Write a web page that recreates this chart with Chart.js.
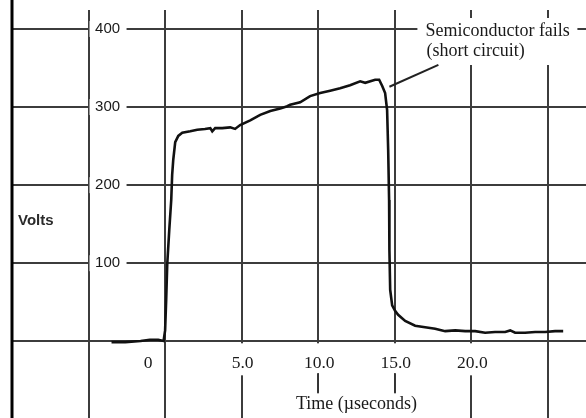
<!DOCTYPE html>
<html>
<head>
<meta charset="utf-8">
<script src="https://cdn.jsdelivr.net/npm/chart.js@4.4.1/dist/chart.umd.min.js"></script>
<style>
  html, body { margin: 0; padding: 0; background: #fff; }
  #wrap { width: 586px; height: 418px; }
</style>
</head>
<body>
<div id="wrap"><canvas id="c" width="586" height="418"></canvas></div>
<script>
// ---- data ----
const timeUs = [-3.5, -2.6, -1.6, -1.0, -0.45, -0.1, 0.0, 0.07, 0.14, 0.27, 0.4, 0.46, 0.53, 0.66, 0.86, 1.12, 1.64, 2.1, 2.6, 2.95, 3.08, 3.27, 3.73, 4.25, 4.57, 4.9, 5.56, 6.21, 6.87, 7.52, 7.97, 8.17, 8.82, 9.47, 10.13, 10.78, 11.43, 12.08, 12.74, 13.07, 13.72, 13.98, 14.18, 14.37, 14.5, 14.57, 14.63, 14.65, 14.7, 14.83, 15.02, 15.22, 15.68, 16.33, 16.98, 17.64, 18.29, 18.95, 19.6, 20.25, 20.9, 21.55, 22.21, 22.54, 22.86, 23.51, 24.17, 24.82, 25.47, 26.0];
const volts  = [-1, -1, 0.5, 2, 2, 0.5, 14, 53, 99, 142, 181, 213, 232, 255, 263, 267, 269, 271, 272, 273, 269, 273, 273, 274, 272, 277, 283, 290, 295, 298, 301, 303, 306, 314, 318, 321, 324, 328, 333, 331, 335, 335, 327, 318, 296, 245, 181, 117, 66, 46, 39, 34, 26, 20, 18, 16, 13, 14, 13, 13, 11, 12, 12, 14, 11, 11, 12, 12, 13, 13];

const xTickValues = [0, 5, 10, 15, 20];
const xTickLabels = ['0', '5.0', '10.0', '15.0', '20.0'];
const yTickValues = [100, 200, 300, 400];
const yTickLabels = ['100', '200', '300', '400'];
const xGridValues = [-5, 0, 5, 10, 15, 20, 25];
const yGridValues = [0, 100, 200, 300, 400];

const yAxisTitle = 'Volts';
const xAxisTitle = 'Time (\u00b5seconds)';
const noteLines = ['Semiconductor fails', '(short circuit)'];
const leaderX = [14.65, 17.85];
const leaderY = [326, 354];

// ---- chart ----
const serif = '"Liberation Serif", "Times New Roman", serif';
const sans = '"Liberation Sans", Arial, sans-serif';

const decor = {
  id: 'decor',
  beforeDatasetsDraw(chart) {
    const ctx = chart.ctx;
    const xs = chart.scales.x, ys = chart.scales.y;
    const W = chart.width, H = chart.height;
    ctx.save();
    ctx.fillStyle = '#fff';
    // white strip on top (grid lines start a bit below the top)
    ctx.fillRect(0, 0, W, 10);
    // gaps for y tick labels
    const yLabX = xs.getPixelForValue(-5) + 19;
    yTickValues.forEach(v => {
      const py = ys.getPixelForValue(v);
      ctx.fillRect(yLabX - 18, py - 8, 37, 16);
    });
    // gaps for x tick labels
    const base = ys.getPixelForValue(0);
    xTickValues.forEach((v, i) => {
      if (v === 0) return;
      const px = xs.getPixelForValue(v);
      const top = base + 2;
      const h = (v === 10 || v === 15) ? 30 : 32;
      ctx.fillRect(px - 17, top, 34, h);
    });
    // gap for x axis title
    const tx = (xs.getPixelForValue(10) + xs.getPixelForValue(15)) / 2;
    ctx.fillRect(tx - 70, base + 52, 140, H - base - 52);
    // gap for annotation text
    const ax = xs.getPixelForValue(leaderX[1]);
    ctx.fillRect(ax - 21, 18, 160, 47);

    // left frame line
    ctx.strokeStyle = '#000';
    ctx.lineWidth = 3;
    ctx.beginPath();
    const lx = xs.getPixelForValue(-10);
    ctx.moveTo(lx, 0); ctx.lineTo(lx, H);
    ctx.stroke();

    // texts
    ctx.fillStyle = '#1a1a1a';
    ctx.textBaseline = 'middle';
    ctx.textAlign = 'center';
    ctx.font = '15px ' + sans;
    yTickValues.forEach((v, i) => {
      ctx.fillText(yTickLabels[i], yLabX, ys.getPixelForValue(v));
    });
    ctx.font = '17.5px ' + serif;
    xTickValues.forEach((v, i) => {
      let px = xs.getPixelForValue(v);
      if (v === 0) px -= 17;
      ctx.fillText(xTickLabels[i], px + (v === 0 ? 0 : 1), base + 22);
    });
    ctx.font = '18px ' + serif;
    ctx.fillText(xAxisTitle, tx, base + 63);
    ctx.textAlign = 'left';
    ctx.font = 'bold 15px ' + sans;
    ctx.fillStyle = '#2a2a2a';
    ctx.fillText(yAxisTitle, lx + 6, ys.getPixelForValue(150) - 3);
    ctx.fillStyle = '#1a1a1a';
    ctx.font = '18px ' + serif;
    ctx.fillText(noteLines[0], ax - 13, 31);
    ctx.fillText(noteLines[1], ax - 12, 51);

    // small ticks under 10.0 and 15.0
    ctx.strokeStyle = '#333';
    ctx.lineWidth = 1.5;
    [10, 15].forEach(v => {
      const px = xs.getPixelForValue(v);
      ctx.beginPath();
      ctx.moveTo(px, base + 32); ctx.lineTo(px, base + 51);
      ctx.stroke();
    });
    ctx.restore();
  }
};

const pts = timeUs.map((t, i) => ({ x: t, y: volts[i] }));
const leader = leaderX.map((t, i) => ({ x: t, y: leaderY[i] }));

new Chart(document.getElementById('c'), {
  type: 'line',
  data: {
    datasets: [
      { data: pts, borderColor: '#111', borderWidth: 2.6, pointRadius: 0, tension: 0, fill: false },
      { data: leader, borderColor: '#222', borderWidth: 2, pointRadius: 0, tension: 0, fill: false }
    ]
  },
  options: {
    responsive: false,
    animation: false,
    devicePixelRatio: 1,
    layout: { padding: { left: 12, right: 0, top: 0, bottom: 0 } },
    plugins: { legend: { display: false }, tooltip: { enabled: false } },
    scales: {
      x: {
        type: 'linear', min: -10, max: 27.49,
        afterBuildTicks: s => { s.ticks = xGridValues.map(v => ({ value: v })); },
        ticks: { display: false },
        grid: { color: '#3c3c3c', lineWidth: 2, drawTicks: false },
        border: { display: false }
      },
      y: {
        type: 'linear', min: -98.2, max: 437.1,
        afterBuildTicks: s => { s.ticks = yGridValues.map(v => ({ value: v })); },
        ticks: { display: false },
        grid: { color: '#3c3c3c', lineWidth: 2, drawTicks: false },
        border: { display: false }
      }
    }
  },
  plugins: [decor]
});
</script>
</body>
</html>
